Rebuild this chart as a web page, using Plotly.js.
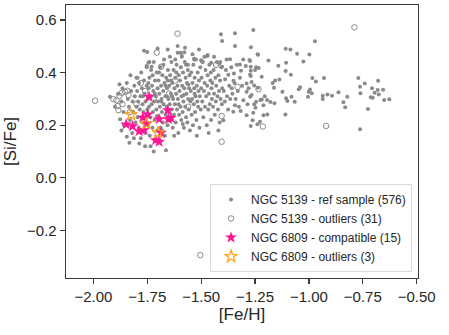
<!DOCTYPE html>
<html>
<head>
<meta charset="utf-8">
<script src="https://cdn.plot.ly/plotly-3.0.1.min.js"></script>
<style>
  html, body { margin: 0; padding: 0; background: #fff; }
  #plot { width: 449px; height: 335px; }
</style>
</head>
<body>
<div id="plot"></div>
<script>
// NGC 5139 reference sample, [Fe/H] vs [Si/Fe]
var refMetalPoor = [
  [-1.923,0.308],[-1.879,0.356],[-1.876,0.223],[-1.833,0.133],[-1.845,0.156],[-1.90,0.27],[-1.87,0.29],[-1.86,0.25],
  [-1.885,0.32],[-1.865,0.34],[-1.858,0.20],[-1.87,0.18],
  [-1.845,0.36],[-1.84,0.30],[-1.835,0.27],[-1.83,0.22],[-1.825,0.33],[-1.82,0.17],[-1.818,0.29],[-1.815,0.25],
  [-1.81,0.35],[-1.808,0.31],[-1.805,0.21],[-1.80,0.38],[-1.80,0.27],[-1.812,0.15],[-1.828,0.39]
];
var refCoreA = [
  [-1.797,0.33],[-1.795,0.23],[-1.792,0.29],[-1.79,0.19],[-1.788,0.36],[-1.785,0.26],[-1.782,0.31],[-1.78,0.15],
  [-1.778,0.40],[-1.775,0.34],[-1.772,0.28],[-1.77,0.21],[-1.768,0.25],[-1.765,0.37],[-1.763,0.32],[-1.76,0.17],
  [-1.758,0.29],[-1.755,0.23],[-1.753,0.35],[-1.752,0.42],[-1.75,0.26],[-1.787,0.13],[-1.76,0.12],[-1.795,0.38],[-1.77,0.31],
  [-1.748,0.30],[-1.746,0.20],[-1.744,0.34],[-1.742,0.27],[-1.74,0.38],[-1.738,0.16],[-1.736,0.23],[-1.734,0.31],
  [-1.732,0.41],[-1.73,0.28],[-1.728,0.35],[-1.726,0.19],[-1.724,0.25],[-1.722,0.33],[-1.72,0.44],[-1.718,0.29],
  [-1.716,0.22],[-1.714,0.37],[-1.712,0.14],[-1.71,0.31],[-1.708,0.26],[-1.706,0.40],[-1.704,0.18],[-1.702,0.34],
  [-1.70,0.29],[-1.735,0.12],[-1.725,0.39],[-1.715,0.32],[-1.705,0.235],[-1.745,0.36],[-1.72,0.10],[-1.74,0.44]
];
var refCoreB = [
  [-1.698,0.37],[-1.696,0.23],[-1.694,0.32],[-1.692,0.27],[-1.69,0.42],[-1.688,0.19],[-1.686,0.35],[-1.684,0.30],
  [-1.682,0.25],[-1.68,0.39],[-1.678,0.21],[-1.676,0.33],[-1.674,0.28],[-1.672,0.45],[-1.67,0.36],[-1.668,0.16],
  [-1.666,0.31],[-1.664,0.24],[-1.662,0.38],[-1.66,0.27],[-1.658,0.34],[-1.656,0.20],[-1.654,0.41],[-1.652,0.30],
  [-1.65,0.25],[-1.663,0.105],[-1.69,0.14],[-1.675,0.43],[-1.685,0.29],[-1.665,0.35],[-1.655,0.37],[-1.68,0.18],
  [-1.695,0.40],[-1.66,0.31],
  [-1.648,0.35],[-1.646,0.28],[-1.644,0.39],[-1.642,0.22],[-1.64,0.32],[-1.638,0.44],[-1.636,0.26],[-1.634,0.36],
  [-1.632,0.19],[-1.63,0.30],[-1.628,0.41],[-1.626,0.24],[-1.624,0.34],[-1.622,0.28],[-1.62,0.38],[-1.618,0.21],
  [-1.616,0.32],[-1.614,0.43],[-1.612,0.26],[-1.61,0.35],[-1.608,0.30],[-1.606,0.17],[-1.604,0.39],[-1.602,0.24],
  [-1.60,0.33],[-1.645,0.46],[-1.625,0.16],[-1.615,0.40],[-1.635,0.31],[-1.605,0.28],[-1.64,0.37],[-1.62,0.45]
];
var refCoreC = [
  [-1.598,0.37],[-1.596,0.27],[-1.594,0.42],[-1.592,0.22],[-1.59,0.31],[-1.588,0.35],[-1.586,0.25],[-1.584,0.40],
  [-1.582,0.29],[-1.58,0.19],[-1.578,0.34],[-1.576,0.44],[-1.574,0.27],[-1.572,0.38],[-1.57,0.23],[-1.568,0.32],
  [-1.566,0.36],[-1.564,0.21],[-1.562,0.41],[-1.56,0.30],[-1.558,0.26],[-1.556,0.34],[-1.554,0.39],[-1.552,0.18],
  [-1.55,0.29],[-1.59,0.46],[-1.57,0.43],[-1.58,0.315],[-1.56,0.355],[-1.585,0.205],
  [-1.548,0.33],[-1.546,0.40],[-1.544,0.24],[-1.542,0.30],[-1.54,0.36],[-1.538,0.20],[-1.536,0.43],[-1.534,0.28],
  [-1.532,0.34],[-1.53,0.38],[-1.528,0.25],[-1.526,0.31],[-1.524,0.45],[-1.522,0.22],[-1.52,0.35],[-1.518,0.29],
  [-1.516,0.40],[-1.514,0.27],[-1.512,0.33],[-1.51,0.37],[-1.508,0.19],[-1.506,0.31],[-1.504,0.42],[-1.502,0.26],
  [-1.50,0.34],[-1.54,0.47],[-1.52,0.16],[-1.53,0.32]
];
var refCoreD = [
  [-1.498,0.38],[-1.495,0.29],[-1.492,0.44],[-1.49,0.23],[-1.487,0.33],[-1.484,0.36],[-1.482,0.27],[-1.48,0.41],
  [-1.477,0.31],[-1.474,0.20],[-1.472,0.35],[-1.47,0.39],[-1.467,0.26],[-1.464,0.32],[-1.462,0.43],[-1.46,0.28],
  [-1.457,0.37],[-1.454,0.22],[-1.452,0.34],[-1.45,0.30],[-1.485,0.46],[-1.465,0.17],[-1.455,0.40],
  [-1.448,0.36],[-1.445,0.27],[-1.442,0.41],[-1.44,0.32],[-1.437,0.24],[-1.434,0.38],[-1.432,0.29],[-1.43,0.35],
  [-1.427,0.44],[-1.424,0.31],[-1.422,0.26],[-1.42,0.39],[-1.417,0.33],[-1.414,0.21],[-1.412,0.37],[-1.41,0.30],
  [-1.407,0.42],[-1.404,0.28],[-1.402,0.34],[-1.44,0.46],[-1.42,0.18]
];
var refMid = [
  [-1.397,0.219],[-1.389,0.375],[-1.382,0.450],[-1.374,0.392],[-1.366,0.451],[-1.358,0.340],[-1.351,0.251],
  [-1.348,0.397],[-1.343,0.276],[-1.35,0.369],[-1.395,0.33],[-1.39,0.29],[-1.385,0.41],[-1.38,0.31],[-1.375,0.26],
  [-1.37,0.35],[-1.365,0.30],[-1.36,0.42],[-1.355,0.32],[-1.345,0.36],[-1.34,0.30],[-1.335,0.43],[-1.33,0.33],
  [-1.325,0.27],[-1.32,0.38],[-1.315,0.407],[-1.317,0.254],[-1.304,0.295],[-1.31,0.35],[-1.32,0.431],[-1.343,0.501],
  [-1.305,0.45],
  [-1.293,0.425],[-1.289,0.359],[-1.289,0.327],[-1.289,0.238],[-1.276,0.448],[-1.273,0.392],[-1.270,0.422],
  [-1.269,0.496],[-1.266,0.364],[-1.266,0.315],[-1.261,0.219],[-1.258,0.562],[-1.254,0.351],[-1.254,0.280],
  [-1.250,0.41],[-1.248,0.266],[-1.245,0.289],[-1.245,0.42],[-1.238,0.470],[-1.237,0.342],[-1.236,0.468],
  [-1.233,0.417],[-1.227,0.213],[-1.225,0.296],[-1.219,0.384],[-1.219,0.298],[-1.211,0.276],[-1.211,0.238],
  [-1.205,0.31],[-1.258,0.247],[-1.27,0.407],[-1.273,0.444],[-1.273,0.308],[-1.27,0.387],[-1.27,0.197],
  [-1.239,0.204],[-1.28,0.34],[-1.285,0.28]
];
var refMetalRich = [
  [-1.194,0.296],[-1.193,0.241],[-1.188,0.446],[-1.179,0.288],[-1.168,0.36],[-1.162,0.342],[-1.16,0.283],
  [-1.157,0.37],[-1.142,0.426],[-1.137,0.374],[-1.123,0.327],[-1.109,0.241],[-1.108,0.491],[-1.108,0.406],
  [-1.106,0.437],[-1.106,0.302],[-1.1,0.292],[-1.086,0.488],[-1.084,0.392],[-1.081,0.308],[-1.066,0.289],
  [-1.055,0.472],[-1.047,0.337],[-1.041,0.344],[-1.026,0.442],[-1.004,0.308],[-1.001,0.327],[-0.998,0.469],
  [-0.995,0.336],[-0.987,0.321],[-0.984,0.379],[-0.972,0.519],[-0.968,0.366],[-0.936,0.312],[-0.936,0.300],
  [-0.930,0.379],[-0.914,0.317],[-0.893,0.312],[-0.863,0.325],[-0.840,0.287],[-0.832,0.268],[-0.822,0.308],
  [-0.771,0.379],[-0.763,0.346],[-0.763,0.185],[-0.761,0.321],[-0.741,0.359],[-0.726,0.262],[-0.713,0.306],
  [-0.707,0.340],[-0.704,0.304],[-0.695,0.323],[-0.681,0.334],[-0.679,0.369],[-0.676,0.317],[-0.656,0.335],
  [-0.651,0.296],[-0.627,0.299]
];
var refUpper = [
  [-1.408,0.546],[-1.403,0.520],[-1.343,0.550],[-1.765,0.483],[-1.75,0.478],[-1.702,0.492],[-1.655,0.488],
  [-1.609,0.501],[-1.609,0.475],[-1.595,0.475],[-1.575,0.494],[-1.578,0.477],[-1.51,0.488],[-1.47,0.467],
  [-1.532,0.450],[-1.5,0.447],[-1.454,0.437],[-1.416,0.435],[-1.403,0.422],[-1.745,0.437],[-1.753,0.425],
  [-1.73,0.422],[-1.59,0.463],[-1.533,0.453],[-1.471,0.463],[-1.561,0.430],[-1.496,0.441],[-1.412,0.440]
];

// NGC 5139 outliers
var outlierFeH = [-1.610,-1.706,-1.686,-1.431,-1.331,-1.234,-1.405,-1.405,-0.789,-1.214,-0.920,-1.504,
  -1.992,-1.907,-1.893,-1.879,-1.868,-1.853,-1.842,-1.884,-1.887,-1.865,-1.837,
  -1.76,-1.72,-1.65,-1.80,-1.78,-1.56,-1.62,-1.83];
var outlierSiFe = [0.548,0.476,0.422,0.429,0.346,0.337,0.137,0.235,0.572,0.195,0.197,-0.294,
  0.293,0.299,0.295,0.311,0.323,0.327,0.331,0.257,0.273,0.280,0.314,
  0.33,0.30,0.32,0.28,0.36,0.27,0.37,0.25];

// NGC 6809 stars
var compatFeH = [-1.742,-1.655,-1.771,-1.748,-1.695,-1.652,-1.640,-1.848,-1.818,-1.788,-1.765,-1.686,-1.711,-1.695,-1.757];
var compatSiFe = [0.308,0.257,0.229,0.241,0.223,0.223,0.228,0.203,0.196,0.177,0.181,0.171,0.143,0.137,0.205];
var m4OutFeH = [-1.825,-1.754,-1.700];
var m4OutSiFe = [0.240,0.206,0.172];

var xTicks = [-2.00,-1.75,-1.50,-1.25,-1.00,-0.75,-0.50];
var yTicks = [-0.2,0.0,0.2,0.4,0.6];

var refAll = [].concat(refMetalPoor, refCoreA, refCoreB, refCoreC, refCoreD, refMid, refMetalRich, refUpper);

var grey = '#8a8a8a';
var traces = [
  {
    x: refAll.map(function (p) { return p[0]; }),
    y: refAll.map(function (p) { return p[1]; }),
    type: 'scatter', mode: 'markers',
    name: 'NGC 5139 - ref sample (576)',
    marker: { color: grey, size: 4 }
  },
  {
    x: outlierFeH, y: outlierSiFe,
    type: 'scatter', mode: 'markers',
    name: 'NGC 5139 - outliers (31)',
    marker: { symbol: 'circle-open', color: grey, size: 5.5, line: { width: 1 } }
  },
  {
    x: compatFeH, y: compatSiFe,
    type: 'scatter', mode: 'markers',
    name: 'NGC 6809 - compatible (15)',
    marker: { symbol: 'star', color: '#ff1493', size: 9, line: { width: 0 } }
  },
  {
    x: m4OutFeH, y: m4OutSiFe,
    type: 'scatter', mode: 'markers',
    name: 'NGC 6809 - outliers (3)',
    marker: { symbol: 'star-open', color: '#ffa31a', size: 9, line: { width: 1.2 } }
  }
];

var axisStyle = {
  showline: true, mirror: true, linecolor: '#3a3a3a', linewidth: 1.3,
  ticks: 'outside', ticklen: 5, tickwidth: 1.3, tickcolor: '#3a3a3a',
  showgrid: false, zeroline: false,
  tickfont: { size: 15, color: '#262626' }
};

var layout = {
  width: 449, height: 335,
  margin: { l: 66, r: 31, t: 5, b: 57 },
  paper_bgcolor: '#fff', plot_bgcolor: '#fff',
  font: { family: 'Liberation Sans, Arial, sans-serif', color: '#262626' },
  showlegend: true,
  legend: {
    x: 0.983, xanchor: 'right', y: 0.022, yanchor: 'bottom',
    bgcolor: 'rgba(255,255,255,0.9)', bordercolor: '#d9d9d9', borderwidth: 1,
    font: { size: 12, color: '#262626' }
  },
  xaxis: Object.assign({}, axisStyle, {
    range: [-2.127, -0.494],
    tickvals: xTicks, tickformat: '.2f',
    title: { text: '[Fe/H]', font: { size: 17 }, standoff: 2 }
  }),
  yaxis: Object.assign({}, axisStyle, {
    range: [-0.381, 0.657],
    tickvals: yTicks, tickformat: '.1f',
    title: { text: '[Si/Fe]', font: { size: 17 }, standoff: 6 }
  })
};

Plotly.newPlot('plot', traces, layout, { displayModeBar: false, staticPlot: true });
</script>
</body>
</html>
